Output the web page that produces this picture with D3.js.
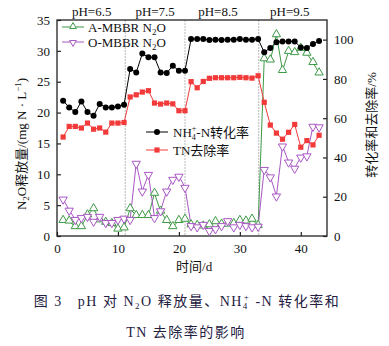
<!DOCTYPE html>
<html>
<head>
<meta charset="utf-8">
<script src="https://cdn.jsdelivr.net/npm/d3@7"></script>
<style>
  body { margin: 0; background: #fff; }
  svg { display: block; }
  text { font-family: "Liberation Serif", "Noto Sans CJK SC", serif; }
</style>
</head>
<body>
<div id="chart"></div>
<script>
// 时间/d
const days = [1,2,3,4,5,6,7,8,9,10,11,12,13,14,15,16,17,18,19,20,21,22,23,24,25,26,27,28,29,30,31,32,33,34,35,36,37,38,39,40,41,42,43];
// NH4+-N 转化率 (right axis, %)
const nh4Conv = [68.9,65.5,63.1,68.5,63.1,61.2,67.2,65.5,65.5,66.0,66.8,
  85.0,83.3,92.9,91.0,91.0,83.3,83.0,86.7,84.2,84.2,
  100.3,100.3,100.3,99.8,100.0,99.8,100.0,100.0,100.3,100.0,100.0,100.3,
  93.6,95.8,98.7,99.1,99.1,99.1,96.0,95.8,97.8,99.3];
// TN 去除率 (right axis, %)
const tnRemoval = [50.4,55.8,55.8,55.0,57.5,54.4,55.0,52.9,57.5,57.5,57.8,
  70.8,71.9,73.3,74.0,67.7,67.2,67.7,67.3,63.8,63.8,
  78.6,75.5,78.7,80.3,80.6,80.6,80.6,80.6,80.8,80.6,80.4,81.6,
  68.1,56.5,52.4,49.3,52.8,56.8,45.2,48.6,46.4,51.3];
// A-MBBR N2O (left axis)
const aN2O = [2.5,2.4,1.5,1.5,3.4,4.4,2.6,2.2,2.0,1.1,1.3,
  4.4,3.3,3.3,3.3,6.9,4.0,2.5,1.5,2.5,2.7,
  1.8,1.7,1.6,1.8,2.3,1.9,1.9,2.0,2.5,2.4,2.7,1.7,
  28.7,28.5,32.6,26.8,29.9,29.7,30.4,29.6,28.1,26.4];
// O-MBBR N2O (left axis)
const oN2O = [6.0,4.2,2.7,3.0,3.2,2.4,3.2,2.2,2.2,2.7,2.9,
  2.7,11.8,7.3,10.0,3.0,4.1,7.3,9.2,9.7,7.9,
  1.7,1.5,1.9,0.9,1.2,1.7,2.5,1.5,1.9,1.7,1.5,1.6,
  10.8,9.6,6.5,14.6,12.0,11.0,12.8,13.0,17.8,17.7];

const phLabels = ["pH=6.5", "pH=7.5", "pH=8.5", "pH=9.5"];
const phCenters = [5.7, 16.1, 26.4, 38.2];
const phBreaks = [11.2, 21, 33.1];

const leftTicks = [0,5,10,15,20,25,30,35];
const rightTicks = [0,20,40,60,80,100];
const xTicks = [0,10,20,30,40];

const W = 389, H = 346;
const margin = { top: 20, right: 62, bottom: 110, left: 57 };
const width = W - margin.left - margin.right;   // 270
const height = H - margin.top - margin.bottom;  // 216

const svg = d3.select("#chart").append("svg")
    .attr("width", W)
    .attr("height", H);

const g = svg.append("g")
    .attr("transform", "translate(" + margin.left + "," + margin.top + ")");

const x = d3.scaleLinear().domain([0, 44.3]).range([0, width]);
const yL = d3.scaleLinear().domain([0, 35]).range([height, 0]);
const yR = d3.scaleLinear().domain([0, 110]).range([height, 0]);

// pH period separators
g.selectAll(".sep")
    .data(phBreaks)
    .enter().append("line")
    .attr("x1", d => x(d)).attr("x2", d => x(d))
    .attr("y1", 0).attr("y2", height)
    .attr("stroke", "#9a9a9a")
    .attr("stroke-width", 0.7)
    .attr("stroke-dasharray", "2,1");

// axes (ticks inward)
const fs = 13;
const xAxis = g.append("g")
    .attr("transform", "translate(0," + height + ")")
    .call(d3.axisBottom(x).tickValues(xTicks).tickSizeInner(-4).tickSizeOuter(0).tickPadding(8));
const lAxis = g.append("g")
    .call(d3.axisLeft(yL).tickValues(leftTicks).tickSizeInner(-4).tickSizeOuter(0).tickPadding(7));
const rAxis = g.append("g")
    .attr("transform", "translate(" + width + ",0)")
    .call(d3.axisRight(yR).tickValues(rightTicks).tickSizeInner(-4).tickSizeOuter(0).tickPadding(7));
[xAxis, lAxis, rAxis].forEach(a => {
    a.select(".domain").remove();
    a.selectAll("line").attr("stroke", "#222").attr("stroke-width", 1.2);
    a.selectAll("text").style("font-size", fs + "px")
        .style("font-family", "'Liberation Serif', serif").attr("fill", "#111");
});

// frame
g.append("rect")
    .attr("width", width).attr("height", height)
    .attr("fill", "none").attr("stroke", "#222").attr("stroke-width", 1.3);

// series
const colors = { nh4: "#000", tn: "#f23a3a", a: "#3e9a46", o: "#a957c4" };

function drawLine(vals, scale, color) {
    g.append("path")
        .datum(vals)
        .attr("fill", "none")
        .attr("stroke", color)
        .attr("stroke-width", 1)
        .attr("d", d3.line().x((d, i) => x(days[i])).y(d => scale(d)));
}

const triUp = d3.symbol().type(d3.symbolTriangle).size(30);

drawLine(aN2O, yL, colors.a);
drawLine(oN2O, yL, colors.o);
drawLine(tnRemoval, yR, colors.tn);
drawLine(nh4Conv, yR, colors.nh4);

g.selectAll(".ma").data(aN2O).enter().append("path")
    .attr("d", triUp)
    .attr("transform", (d, i) => "translate(" + x(days[i]) + "," + (yL(d) - 0.5) + ")")
    .attr("fill", "#fff").attr("stroke", colors.a).attr("stroke-width", 1);

g.selectAll(".mo").data(oN2O).enter().append("path")
    .attr("d", triUp)
    .attr("transform", (d, i) => "translate(" + x(days[i]) + "," + (yL(d) + 0.5) + ") rotate(180)")
    .attr("fill", "#fff").attr("stroke", colors.o).attr("stroke-width", 1);

g.selectAll(".mt").data(tnRemoval).enter().append("rect")
    .attr("x", (d, i) => x(days[i]) - 2.6)
    .attr("y", d => yR(d) - 2.6)
    .attr("width", 5.2).attr("height", 5.2)
    .attr("fill", colors.tn);

g.selectAll(".mn").data(nh4Conv).enter().append("circle")
    .attr("cx", (d, i) => x(days[i]))
    .attr("cy", d => yR(d))
    .attr("r", 3)
    .attr("fill", colors.nh4);

// pH labels above the plot
svg.selectAll(".ph").data(phLabels).enter().append("text")
    .attr("x", (d, i) => margin.left + x(phCenters[i]))
    .attr("y", 16)
    .attr("text-anchor", "middle")
    .style("font-size", "13px")
    .attr("fill", "#111")
    .text(d => d);

// legend rows
function legendRow(lx, ly, color, marker) {
    g.append("line")
        .attr("x1", lx).attr("x2", lx + 22)
        .attr("y1", ly).attr("y2", ly)
        .attr("stroke", color).attr("stroke-width", 1);
    if (marker === "up") {
        g.append("path").attr("d", d3.symbol().type(d3.symbolTriangle).size(20))
            .attr("transform", "translate(" + (lx + 11) + "," + (ly - 0.5) + ")")
            .attr("fill", "#fff").attr("stroke", color);
    } else if (marker === "down") {
        g.append("path").attr("d", d3.symbol().type(d3.symbolTriangle).size(20))
            .attr("transform", "translate(" + (lx + 11) + "," + (ly + 0.5) + ") rotate(180)")
            .attr("fill", "#fff").attr("stroke", color);
    } else if (marker === "circle") {
        g.append("circle").attr("cx", lx + 11).attr("cy", ly).attr("r", 3).attr("fill", color);
    } else {
        g.append("rect").attr("x", lx + 11 - 2.6).attr("y", ly - 2.6)
            .attr("width", 5.2).attr("height", 5.2).attr("fill", color);
    }
}

function n2oLabel(tx, ty, prefix) {
    const t = g.append("text").attr("x", tx).attr("y", ty)
        .style("font-size", "13px").attr("fill", "#111");
    t.append("tspan").text(prefix + " N");
    t.append("tspan").attr("dy", 3).style("font-size", "9px").text("2");
    t.append("tspan").attr("dy", -3).text("O");
}

legendRow(5, 7, colors.a, "up");
n2oLabel(31, 11.5, "A-MBBR");
legendRow(5, 22, colors.o, "down");
n2oLabel(31, 26.5, "O-MBBR");

legendRow(89, 112, colors.nh4, "circle");
const t1 = g.append("text").attr("x", 116).attr("y", 116.5)
    .style("font-size", "13px").attr("fill", "#111");
t1.append("tspan").text("NH");
t1.append("tspan").attr("dy", 3).style("font-size", "8px").text("4");
t1.append("tspan").attr("dy", -9).attr("dx", -4).style("font-size", "8px").text("+");
t1.append("tspan").attr("dy", 6).text("-N转化率");

legendRow(89, 130, colors.tn, "square");
g.append("text").attr("x", 116).attr("y", 134.5)
    .style("font-size", "13px").attr("fill", "#111")
    .text("TN去除率");

// axis titles
const yl = svg.append("text")
    .attr("transform", "translate(26," + (margin.top + 124) + ") rotate(-90)")
    .attr("text-anchor", "middle")
    .style("font-size", "13px").attr("fill", "#111");
yl.append("tspan").text("N");
yl.append("tspan").attr("dy", 3).style("font-size", "9px").text("2");
yl.append("tspan").attr("dy", -3).text("O释放量/(mg N · L");
yl.append("tspan").attr("dy", -5).style("font-size", "9px").text("−1");
yl.append("tspan").attr("dy", 5).text(")");

svg.append("text")
    .attr("transform", "translate(376," + (margin.top + 105) + ") rotate(-90)")
    .attr("text-anchor", "middle")
    .style("font-size", "13px").attr("fill", "#111")
    .text("转化率和去除率/%");

svg.append("text")
    .attr("x", margin.left + x(22.5)).attr("y", 271)
    .attr("text-anchor", "middle")
    .style("font-size", "13px").attr("fill", "#111")
    .text("时间/d");

// caption
const cap = svg.append("text")
    .attr("x", 187).attr("y", 306)
    .attr("text-anchor", "middle")
    .style("font-size", "14px").attr("fill", "#24203f")
    .style("letter-spacing", "1.5px");
cap.append("tspan").text("图 3\u00a0\u00a0\u00a0pH 对 N");
cap.append("tspan").attr("dy", 3).style("font-size", "9px").text("2");
cap.append("tspan").attr("dy", -3).text("O 释放量、NH");
cap.append("tspan").attr("dy", 3).style("font-size", "9px").text("4");
cap.append("tspan").attr("dy", -9).attr("dx", -5).style("font-size", "9px").text("+");
cap.append("tspan").attr("dy", 6).text(" -N 转化率和");

svg.append("text")
    .attr("x", 186).attr("y", 337)
    .attr("text-anchor", "middle")
    .style("font-size", "14px").attr("fill", "#24203f")
    .style("letter-spacing", "1.5px")
    .text("TN 去除率的影响");
</script>
</body>
</html>
